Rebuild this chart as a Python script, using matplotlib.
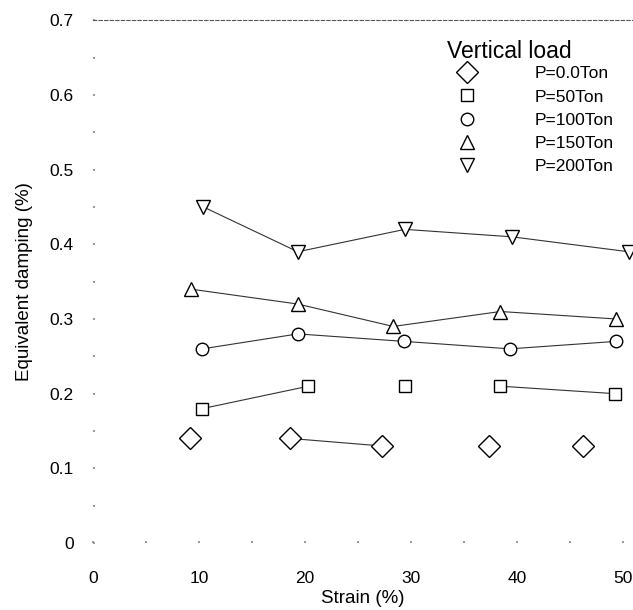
import numpy as np
import matplotlib
matplotlib.use("Agg")
import matplotlib.pyplot as plt
from matplotlib.lines import Line2D
from matplotlib.ticker import MultipleLocator, FuncFormatter

plt.rcParams["font.family"] = ["Liberation Sans", "DejaVu Sans"]

# equivalent damping vs. strain for each vertical load
labels = ["P=0.0Ton", "P=50Ton", "P=100Ton", "P=150Ton", "P=200Ton"]
markers = ["D", "s", "o", "^", "v"]

strain_p0 = [9.1, 18.6, 27.2, 37.3, 46.2]
damp_p0 = [0.14, 0.14, 0.13, 0.13, 0.13]
strain_p50 = [10.3, 20.3, 29.4, 38.4, 49.2]
damp_p50 = [0.18, 0.21, 0.21, 0.21, 0.20]
strain_p100 = [10.3, 19.3, 29.3, 39.3, 49.3]
damp_p100 = [0.26, 0.28, 0.27, 0.26, 0.27]
strain_p150 = [9.2, 19.3, 28.3, 38.4, 49.3]
damp_p150 = [0.34, 0.32, 0.29, 0.31, 0.30]
strain_p200 = [10.4, 19.3, 29.4, 39.5, 50.5]
damp_p200 = [0.45, 0.39, 0.42, 0.41, 0.39]

# pairs of point indices joined by a line segment
links_p0 = [(1, 2)]
links_p50 = [(0, 1), (3, 4)]
links_all = [(0, 1), (1, 2), (2, 3), (3, 4)]

series = [
    (strain_p0, damp_p0, links_p0),
    (strain_p50, damp_p50, links_p50),
    (strain_p100, damp_p100, links_all),
    (strain_p150, damp_p150, links_all),
    (strain_p200, damp_p200, links_all),
]
marker_sizes = [11, 9, 9, 9.5, 9.5]

fig = plt.figure(figsize=(6.33, 6.10), dpi=100)
ax = fig.add_axes([0.147, 0.1098, 0.853, 0.857])

for (xs, ys, links), m, ms in zip(series, markers, marker_sizes):
    xs = np.asarray(xs)
    ys = np.asarray(ys)
    for i, j in links:
        ax.plot(xs[[i, j]], ys[[i, j]], color="#333333", lw=0.8, zorder=1)
    ax.plot(xs, ys, ls="none", marker=m, ms=ms,
            mfc="white", mec="black", mew=1.0, zorder=2, clip_on=False)

ax.set_xlim(0, 50.9)
ax.set_ylim(0, 0.7)
ax.xaxis.set_major_locator(MultipleLocator(10))
ax.xaxis.set_minor_locator(MultipleLocator(5))
ax.yaxis.set_major_locator(MultipleLocator(0.1))
ax.yaxis.set_minor_locator(MultipleLocator(0.05))
ax.yaxis.set_major_formatter(
    FuncFormatter(lambda v, _: "0" if abs(v) < 1e-9 else f"{v:.1f}"))

for side in ("left", "right", "bottom"):
    ax.spines[side].set_visible(False)
ax.spines["top"].set_linestyle((0, (3, 2)))
ax.spines["top"].set_linewidth(0.8)
ax.spines["top"].set_color("#555555")

ax.tick_params(which="both", direction="in", length=1.5, width=1.2,
               color="#888888", labelsize=12.5)
ax.tick_params(axis="y", pad=14)
ax.tick_params(axis="x", pad=20)

ax.set_xlabel("Strain (%)", fontsize=13.5, labelpad=3)
ax.set_ylabel("Equivalent damping (%)", fontsize=13.5, labelpad=12)

handles = [Line2D([], [], ls="none", marker=m, ms=ms,
                  mfc="white", mec="black", mew=1.0)
           for m, ms in zip(markers, marker_sizes)]
ax.text(0.655, 0.94, "Vertical load", transform=ax.transAxes, fontsize=16.5,
        ha="left", va="center")
ax.legend(handles, labels, loc="upper left", bbox_to_anchor=(0.66, 0.912),
          frameon=False, fontsize=12.5, handletextpad=2.9, labelspacing=0.46,
          borderaxespad=0, borderpad=0)

fig.savefig("out.png", dpi=100)
